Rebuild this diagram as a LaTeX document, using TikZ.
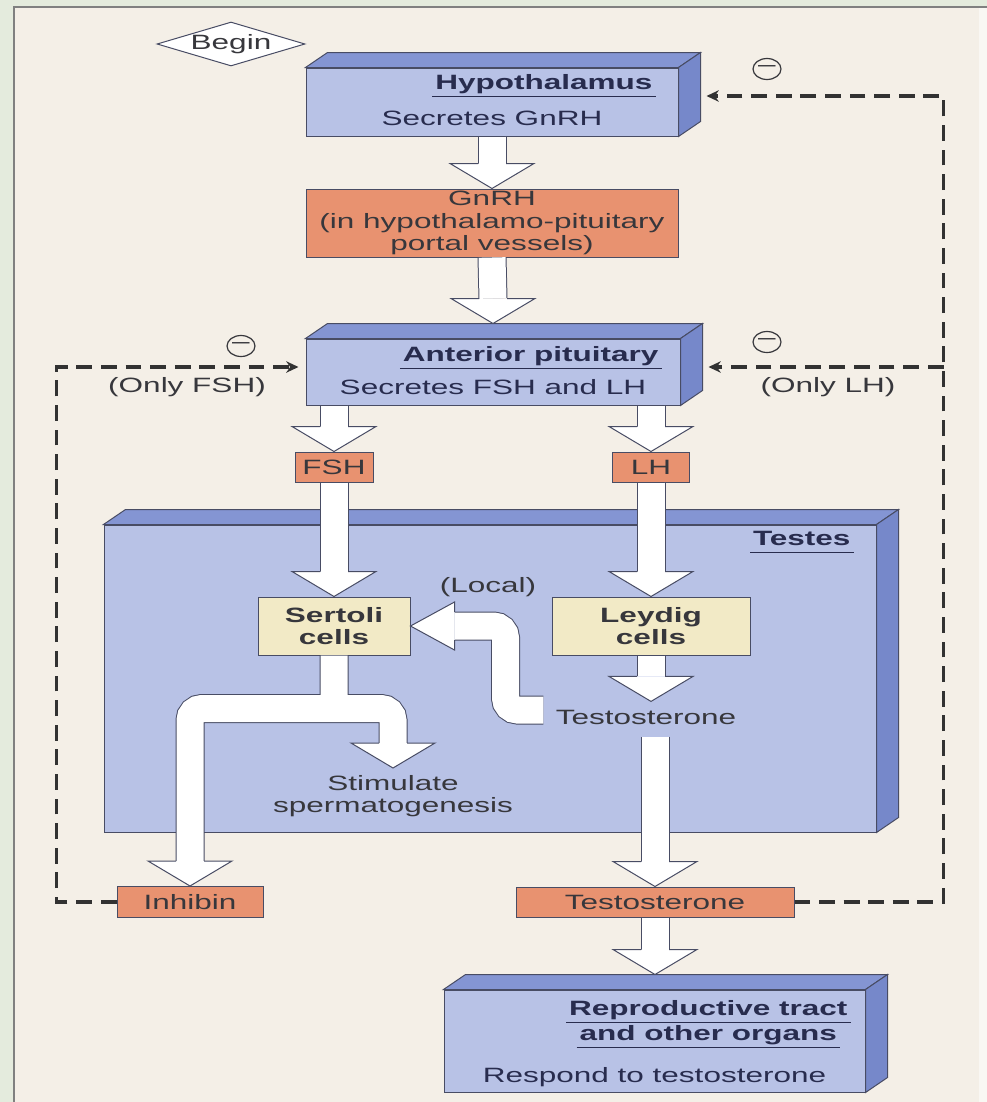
\documentclass[tikz,border=0pt]{standalone}
\usepackage{fontspec}
\setmainfont{Liberation Sans}[FakeStretch=1.52]
\usetikzlibrary{arrows.meta, calc, positioning, shapes.geometric}

\newlength\px
\setlength\px{0.02cm}
\newcommand\figfont{\fontsize{11.8}{12.7}\selectfont}

\definecolor{paper}{RGB}{244,239,231}
\definecolor{margin}{RGB}{228,235,221}
\definecolor{rim}{RGB}{72,76,100}
\definecolor{bluefront}{RGB}{184,194,230}
\definecolor{bluetop}{RGB}{132,149,211}
\definecolor{blueside}{RGB}{118,136,202}
\definecolor{salmon}{RGB}{232,146,112}
\definecolor{cellfill}{RGB}{242,234,198}
\definecolor{navy}{RGB}{40,44,78}
\definecolor{ink}{RGB}{55,55,60}
\definecolor{dashgray}{RGB}{50,50,50}

\tikzset{
  block/.style = {draw=rim, fill=bluefront, line width=1\px, inner sep=0pt},
  hormone/.style = {draw=rim, fill=salmon, line width=1\px, inner sep=0pt, align=center, text=ink, font=\figfont},
  cellbox/.style = {draw=rim, fill=cellfill, line width=1\px, inner sep=0pt, align=center, text=ink, font=\figfont\bfseries},
  heading/.style = {inner sep=1.5pt, text height=0.75em, text depth=0.25em, text=navy, font=\figfont\bfseries},
  note/.style = {inner sep=0pt, align=center, text=ink, font=\figfont},
  minuscirc/.style = {draw=ink, ellipse, line width=1.2\px, minimum width=28\px, minimum height=21\px, inner sep=0pt, text=ink, font=\figfont},
  shaftout/.style = {draw=rim, line width=29\px},
  shaftin/.style = {draw=white, line width=27\px},
  feedback/.style = {draw=dashgray, line width=2pt, dash pattern=on 9pt off 5pt, -{Stealth[length=7pt, width=6.5pt]}}
}

% top and side face of a block
\newcommand\faces[1]{%
  \draw[rim, line width=1\px, fill=bluetop] (#1.north west) -- ++(22,-15) -- ($(#1.north east)+(22,-15)$) -- (#1.north east) -- cycle;
  \draw[rim, line width=1\px, fill=blueside] (#1.north east) -- ($(#1.north east)+(22,-15)$) -- ($(#1.south east)+(22,-15)$) -- (#1.south east) -- cycle;}

% hollow arrow body
\newcommand\shaft[1]{\draw[shaftout] #1; \draw[shaftin] #1;}

\newcommand\headdown[1]{%
  \fill[white] ($(#1)+(-42,-25)$) -- (#1) -- ($(#1)+(42,-25)$) -- cycle;
  \draw[rim, line width=1\px] ($(#1)+(-14,-25)$) -- ($(#1)+(-42,-25)$) -- (#1) -- ($(#1)+(42,-25)$) -- ($(#1)+(14,-25)$);}

\newcommand\headleft[1]{%
  \fill[white] ($(#1)+(44,-24)$) -- (#1) -- ($(#1)+(44,24)$) -- cycle;
  \draw[rim, line width=1\px] ($(#1)+(44,-14)$) -- ($(#1)+(44,-24)$) -- (#1) -- ($(#1)+(44,24)$) -- ($(#1)+(44,14)$);}

\begin{document}
\begin{tikzpicture}[x=1\px, y=-1\px]
  \useasboundingbox (0,0) rectangle (987,1102);
  \fill[margin] (0,0) rectangle (987,1102);
  \fill[paper] (14,7) rectangle (987,1102);
  \fill[white, opacity=0.5] (979,7) rectangle (987,1102);
  \draw[gray, line width=2\px] (14,1102) -- (14,7) -- (987,7);

  % blocks
  \node[block, minimum width=772\px, minimum height=307\px] (testes) at (490,678.5) {};
  \faces{testes}
  \node[block, minimum width=372\px, minimum height=68\px] (hyp) at (492,102) {};
  \faces{hyp}
  \node[block, minimum width=374\px, minimum height=66\px] (pit) at (493,372) {};
  \faces{pit}
  \node[block, minimum width=421\px, minimum height=102\px] (repro) at (654.5,1041) {};
  \faces{repro}

  \node[diamond, draw=rim, fill=white, line width=1\px, aspect=3.3, minimum width=148\px, minimum height=44\px, inner sep=0pt, text=ink, font=\figfont] (begin) at (231,44) {Begin};

  % titles and texts of the blocks
  \node[heading, anchor=south east] (hyptitle) at ($(hyp.north east)+(-23,29)$) {Hypothalamus};
  \node[note, text=navy] (hyptext) at ($(hyp.center)+(0,16)$) {Secretes GnRH};
  \node[heading, anchor=south east] (pittitle) at ($(pit.north east)+(-19,30)$) {Anterior pituitary};
  \node[note, text=navy] (pittext) at ($(pit.center)+(0,15)$) {Secretes FSH and LH};
  \node[heading, anchor=south east] (testitle) at ($(testes.north east)+(-23,28)$) {Testes};
  \node[heading, anchor=south east] (reptitle) at ($(repro.north east)+(-15,33)$) {Reproductive tract};
  \node[heading, anchor=south] (reptitletwo) at ($(reptitle.south)+(0,25)$) {and other organs};
  \node[note, text=navy] (reptext) at ($(repro.south)+(0,-15)$) {Respond to testosterone};
  \foreach \t in {hyptitle, pittitle, testitle, reptitle, reptitletwo}
    \draw[navy, line width=1.5\px] (\t.south west) -- (\t.south east);

  % hormones and cells
  \node[hormone, minimum width=372\px, minimum height=68\px] (gnrh) at (492,223) {GnRH\\(in hypothalamo-pituitary\\portal vessels)};
  \node[hormone, minimum width=78\px, minimum height=30\px] (fsh) at (334,467) {FSH};
  \node[hormone, minimum width=77\px, minimum height=30\px] (lh) at (651,467) {LH};
  \node[cellbox, minimum width=152\px, minimum height=58\px] (sertoli) at (334,626) {Sertoli\\cells};
  \node[cellbox, minimum width=198\px, minimum height=58\px] (leydig) at (651,626) {Leydig\\cells};
  \node[note] (tt) at (646,717) {Testosterone};
  \node[note] (local) at (488,587) {(Local)};
  \node[note, anchor=north] (stim) at (393,775) {Stimulate\\spermatogenesis};
  \node[hormone, minimum width=146\px, minimum height=31\px] (inhibin) at (190,902) {Inhibin};
  \node[hormone, minimum width=278\px, minimum height=30\px] (tbox) at (655,902) {Testosterone};

  \coordinate (pittop) at ($(pit.north)+(0,-15)$);
  \coordinate (reprotop) at ($(repro.north -| tbox.south)+(0,-15)$);
  \coordinate (tttop) at ($(tt.north -| leydig.south)+(0,-8)$);
  \coordinate (stimtip) at ($(stim.north)+(0,-7)$);

  % hollow arrows
  \shaft{(hyp.south) -- ($(gnrh.north)+(0,-25)$)}
  \headdown{gnrh.north}
  \shaft{(gnrh.south) -- ($(pittop)+(0,-25)$)}
  \headdown{pittop}
  \shaft{(pit.south -| fsh.north) -- ($(fsh.north)+(0,-25)$) (pit.south -| lh.north) -- ($(lh.north)+(0,-25)$)}
  \headdown{fsh.north}
  \headdown{lh.north}
  \shaft{(fsh.south) -- ($(sertoli.north)+(0,-25)$) (lh.south) -- ($(leydig.north)+(0,-25)$)}
  \headdown{sertoli.north}
  \headdown{leydig.north}
  \shaft{(leydig.south) -- ($(tttop)+(0,-25)$)}
  \headdown{tttop}
  \shaft{($(tt.south -| tbox.north)+(0,12)$) -- ($(tbox.north)+(0,-25)$)}
  \headdown{tbox.north}
  \shaft{(tbox.south) -- ($(reprotop)+(0,-25)$)}
  \headdown{reprotop}
  \shaft{($(tt.west)+(-12,-7)$) [rounded corners=12\px] -| ($(sertoli.east)+(95,0)$) -- ($(sertoli.east)+(44,0)$)}
  \headleft{sertoli.east}
  \shaft{(sertoli.south) [rounded corners=12\px] -- ++(0,53) -| ($(inhibin.north)+(0,-25)$)
         ($(sertoli.south)+(-14,53)$) [rounded corners=12\px] -| ($(stimtip)+(0,-23)$)}
  \headdown{inhibin.north}
  \headdown{stimtip}

  % negative feedback
  \node[minuscirc] (minushyp) at (767,69) {–};
  \node[minuscirc] (minuslh) at (767,342) {–};
  \node[minuscirc] (minusfsh) at (241,346) {–};
  \node[note] (onlyfsh) at (187,387) {(Only FSH)};
  \node[note] (onlylh) at (828,387) {(Only LH)};
  \draw[feedback] (tbox.east) -| ($(hyp.east)+(265,-6)$) -- ($(hyp.east)+(28,-6)$);
  \draw[feedback] ($(pit.east)+(263,-5)$) -- ($(pit.east)+(28,-5)$);
  \draw[feedback] (inhibin.west) -| ($(pit.west)+(-249,-5)$) -- ($(pit.west)+(-7,-5)$);
\end{tikzpicture}
\end{document}
